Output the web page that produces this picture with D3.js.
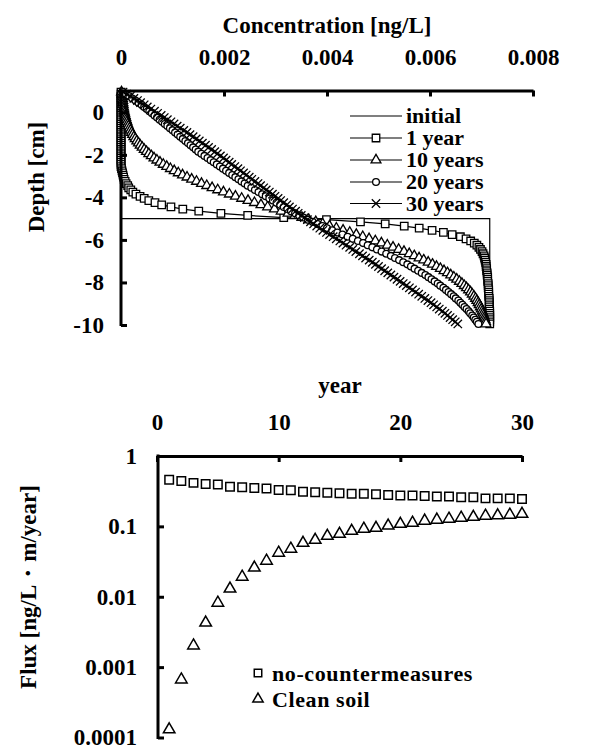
<!DOCTYPE html>
<html>
<head>
<meta charset="utf-8">
<script src="https://cdn.jsdelivr.net/npm/d3@7/dist/d3.min.js"></script>
<style>
  html, body { margin: 0; padding: 0; background: #fff; }
  svg { display: block; }
  svg text { font-family: "Liberation Serif", "Tinos", "Times New Roman", Times, "DejaVu Serif", serif !important; font-weight: bold; fill: #000; }
</style>
</head>
<body>
<svg id="chart" width="590" height="749"></svg>
<script>
// ---------- Concentration profiles (depth in cm, concentration in ng/L) ----------
const depth = [
  0.95, 0.85, 0.75, 0.65, 0.55, 0.45, 0.35, 0.25, 0.15, 0.05,
  -0.05, -0.15, -0.25, -0.35, -0.45, -0.55, -0.65, -0.75, -0.85, -0.95,
  -1.05, -1.15, -1.25, -1.35, -1.45, -1.55, -1.65, -1.75, -1.85, -1.95,
  -2.05, -2.15, -2.25, -2.35, -2.45, -2.55, -2.65, -2.75, -2.85, -2.95,
  -3.05, -3.15, -3.25, -3.35, -3.45, -3.55, -3.65, -3.75, -3.85, -3.95,
  -4.05, -4.15, -4.25, -4.35, -4.45, -4.55, -4.65, -4.75, -4.85, -4.95,
  -5.05, -5.15, -5.25, -5.35, -5.45, -5.55, -5.65, -5.75, -5.85, -5.95,
  -6.05, -6.15, -6.25, -6.35, -6.45, -6.55, -6.65, -6.75, -6.85, -6.95,
  -7.05, -7.15, -7.25, -7.35, -7.45, -7.55, -7.65, -7.75, -7.85, -7.95,
  -8.05, -8.15, -8.25, -8.35, -8.45, -8.55, -8.65, -8.75, -8.85, -8.95,
  -9.05, -9.15, -9.25, -9.35, -9.45, -9.55, -9.65, -9.75, -9.85, -9.95
];

const initialDepth = [1, -5, -5, -10];
const initialConc  = [0, 0, 0.00716, 0.00716];

const conc1y = [
  0, 0, 0, 0, 0, 0, 0, 0, 0, 0,
  0, 0, 0, 0, 0, 0, 0, 0, 0, 0,
  0, 0, 0, 0, 0, 0, 0, 0, 0, 0,
  0, 0, 0, 0, 0, 0, 0.00001, 0.00002, 0.00003, 0.00004,
  0.00005, 0.00006, 0.00008, 0.0001, 0.00013, 0.00015, 0.00019, 0.00023, 0.00029, 0.00037,
  0.00045, 0.00054, 0.00066, 0.00079, 0.00097, 0.0012, 0.00151, 0.00194, 0.00246, 0.00316,
  0.00399, 0.00465, 0.00513, 0.0055, 0.00579, 0.00604, 0.00626, 0.00643, 0.00659, 0.0067,
  0.00679, 0.00686, 0.00691, 0.00695, 0.00698, 0.00701, 0.00703, 0.00705, 0.00706, 0.00707,
  0.00708, 0.00709, 0.00709, 0.0071, 0.0071, 0.00711, 0.00711, 0.00712, 0.00712, 0.00712,
  0.00713, 0.00713, 0.00713, 0.00714, 0.00714, 0.00714, 0.00714, 0.00715, 0.00715, 0.00715,
  0.00715, 0.00715, 0.00715, 0.00716, 0.00716, 0.00716, 0.00716, 0.00716, 0.00716, 0.00716
];

const conc10y = [
  0.00001, 0.00002, 0.000025, 0.000028, 0.000033, 0.000037, 0.000042, 0.000048, 0.000055, 0.000063,
  0.000072, 0.000081, 0.000092, 0.000103, 0.000116, 0.00013, 0.000144, 0.000164, 0.000183, 0.000204,
  0.000225, 0.00025, 0.000276, 0.000307, 0.000339, 0.000373, 0.000411, 0.000451, 0.000494, 0.00054,
  0.000589, 0.000641, 0.000697, 0.000757, 0.000821, 0.000888, 0.000959, 0.001034, 0.001112, 0.001195,
  0.001282, 0.001372, 0.001466, 0.001563, 0.001665, 0.001769, 0.001878, 0.001989, 0.002104, 0.002222,
  0.002343, 0.002466, 0.002591, 0.002718, 0.002848, 0.002979, 0.003111, 0.003244, 0.003378, 0.003513,
  0.003647, 0.003782, 0.003916, 0.004049, 0.004181, 0.004312, 0.004442, 0.004569, 0.004694, 0.004817,
  0.004938, 0.005056, 0.005171, 0.005282, 0.005391, 0.005495, 0.005597, 0.005694, 0.005788, 0.005878,
  0.005965, 0.006048, 0.006126, 0.006201, 0.006272, 0.006339, 0.006403, 0.006463, 0.006519, 0.006571,
  0.00662, 0.006666, 0.006709, 0.006749, 0.006787, 0.006821, 0.006853, 0.006884, 0.00691, 0.006935,
  0.006956, 0.006977, 0.006996, 0.007014, 0.00703, 0.007044, 0.007057, 0.007068, 0.007079, 0.007088
];

const conc20y = [
  0.00004, 0.0001, 0.00016, 0.00022, 0.00028, 0.00034, 0.0004, 0.00045, 0.0005, 0.00055,
  0.0006, 0.00065, 0.0007, 0.00075, 0.0008, 0.00085, 0.0009, 0.00095, 0.001, 0.00105,
  0.0011, 0.00115, 0.0012, 0.00125, 0.0013, 0.00135, 0.0014, 0.00145, 0.0015, 0.00156,
  0.00162, 0.00168, 0.00174, 0.0018, 0.00186, 0.00192, 0.00198, 0.00204, 0.0021, 0.00216,
  0.00222, 0.00228, 0.00234, 0.0024, 0.00246, 0.00253, 0.0026, 0.00267, 0.00274, 0.00281,
  0.00288, 0.00295, 0.00302, 0.00309, 0.00316, 0.00323, 0.0033, 0.00338, 0.00346, 0.00354,
  0.00363, 0.00372, 0.00382, 0.00391, 0.004, 0.0041, 0.0042, 0.0043, 0.0044, 0.0045,
  0.0046, 0.0047, 0.00479, 0.00488, 0.00497, 0.00506, 0.00515, 0.00524, 0.00532, 0.0054,
  0.00548, 0.00556, 0.00563, 0.0057, 0.00577, 0.00584, 0.00591, 0.00597, 0.00603, 0.00609,
  0.00615, 0.0062, 0.00626, 0.00631, 0.00636, 0.00641, 0.00646, 0.0065, 0.00655, 0.00659,
  0.00663, 0.00667, 0.00671, 0.00675, 0.00678, 0.00682, 0.00685, 0.00688, 0.00691, 0.00694
];

const conc30y = [
  0.00004, 0.00011, 0.00018, 0.00025, 0.00032, 0.00038, 0.00045, 0.00051, 0.00058, 0.00065,
  0.00071, 0.00078, 0.00084, 0.0009, 0.00097, 0.00103, 0.00109, 0.00115, 0.00122, 0.00128,
  0.00134, 0.0014, 0.00146, 0.00152, 0.00158, 0.00164, 0.0017, 0.00176, 0.00182, 0.00187,
  0.00193, 0.00199, 0.00204, 0.0021, 0.00215, 0.00221, 0.00227, 0.00232, 0.00238, 0.00243,
  0.00249, 0.00254, 0.0026, 0.00266, 0.00271, 0.00277, 0.00282, 0.00288, 0.00294, 0.00299,
  0.00305, 0.0031, 0.00316, 0.00322, 0.00327, 0.00333, 0.00339, 0.00344, 0.0035, 0.00356,
  0.00362, 0.00368, 0.00374, 0.0038, 0.00386, 0.00392, 0.00399, 0.00405, 0.00412, 0.00418,
  0.00425, 0.00431, 0.00437, 0.00444, 0.0045, 0.00456, 0.00463, 0.00469, 0.00475, 0.00482,
  0.00488, 0.00494, 0.005, 0.00506, 0.00512, 0.00518, 0.00524, 0.0053, 0.00536, 0.00542,
  0.00548, 0.00554, 0.0056, 0.00566, 0.00572, 0.00578, 0.00584, 0.0059, 0.00596, 0.00602,
  0.00607, 0.00613, 0.00618, 0.00624, 0.00629, 0.00634, 0.00639, 0.00644, 0.00649, 0.00654
];

const concTicks = [0, 0.002, 0.004, 0.006, 0.008];
const concTickLabels = ["0", "0.002", "0.004", "0.006", "0.008"];
const depthTicks = [0, -2, -4, -6, -8, -10];
const depthTickLabels = ["0", "-2", "-4", "-6", "-8", "-10"];
const profileNames = ["initial", "1 year", "10 years", "20 years", "30 years"];

// ---------- Flux at the surface over time ----------
const years = [1, 2, 3, 4, 5, 6, 7, 8, 9, 10, 11, 12, 13, 14, 15,
               16, 17, 18, 19, 20, 21, 22, 23, 24, 25, 26, 27, 28, 29, 30];
const fluxNoCountermeasures = [
  0.46, 0.44, 0.415, 0.40, 0.395, 0.365, 0.36, 0.35, 0.345, 0.33,
  0.325, 0.31, 0.305, 0.30, 0.295, 0.29, 0.29, 0.285, 0.28, 0.275,
  0.275, 0.27, 0.265, 0.265, 0.26, 0.26, 0.25, 0.25, 0.25, 0.245
];
const fluxCleanSoil = [
  0.00013, 0.000665, 0.00202, 0.00428, 0.0082, 0.013, 0.0192, 0.0258, 0.0324, 0.042,
  0.048, 0.058, 0.064, 0.073, 0.078, 0.086, 0.092, 0.095, 0.102, 0.108,
  0.112, 0.12, 0.124, 0.128, 0.132, 0.136, 0.141, 0.143, 0.146, 0.15
];
const yearTicks = [0, 10, 20, 30];
const fluxTicks = [1, 0.1, 0.01, 0.001, 0.0001];
const fluxTickLabels = ["1", "0.1", "0.01", "0.001", "0.0001"];
const fluxNames = ["no-countermeasures", "Clean soil"];

// ---------- drawing ----------
const svg = d3.select("#chart");
const FS = 23;
const FS_LEGEND = 22;
const FONT = "'Liberation Serif', 'Tinos', 'Times New Roman', Times, 'DejaVu Serif', serif";

// marker shapes
const xShape = {
  draw(ctx, size) {
    const r = Math.sqrt(size) / 2;
    ctx.moveTo(-r, -r); ctx.lineTo(r, r);
    ctx.moveTo(-r, r); ctx.lineTo(r, -r);
  }
};
const shapes = {
  square: d3.symbol().type(d3.symbolSquare).size(56)(),
  triangle: d3.symbol().type(d3.symbolTriangle).size(42)(),
  circle: d3.symbol().type(d3.symbolCircle).size(36)(),
  cross: d3.symbol().type(xShape).size(70)()
};

function label(sel, size) {
  return sel.attr("font-family", FONT).attr("font-weight", "bold")
    .attr("font-size", size || FS).attr("fill", "#000");
}

function styleAxis(g, tickLabels) {
  g.attr("font-family", FONT).attr("font-size", FS).attr("font-weight", "bold");
  g.select(".domain").attr("stroke", "#000").attr("stroke-width", 3);
  g.selectAll(".tick line").attr("stroke", "#000").attr("stroke-width", 3);
  g.selectAll(".tick text").attr("fill", "#000").text((d, i) => tickLabels[i]);
}

// ===== Top panel: concentration profiles =====
const xc = d3.scaleLinear().domain([0, 0.008]).range([121, 533]);
const yd = d3.scaleLinear().domain([1, -10]).range([91, 325]);

label(svg.append("text")).attr("x", 327).attr("y", 33).attr("text-anchor", "middle")
  .text("Concentration [ng/L]");

label(svg.append("text"))
  .attr("transform", "translate(44,177) rotate(-90)")
  .attr("text-anchor", "middle")
  .text("Depth [cm]");

const lineC = d3.line().x(d => xc(d[0])).y(d => yd(d[1]));

const profiles = [
  { conc: conc1y, shape: "square" },
  { conc: conc10y, shape: "triangle" },
  { conc: conc20y, shape: "circle" },
  { conc: conc30y, shape: "cross" }
];

const gTop = svg.append("g");
gTop.append("path")
  .datum(initialConc.map((c, i) => [c, initialDepth[i]]))
  .attr("d", lineC).attr("fill", "none").attr("stroke", "#000").attr("stroke-width", 1.2);

profiles.forEach(p => {
  const pts = p.conc.map((c, i) => [c, depth[i]]);
  const g = gTop.append("g");
  g.append("path").datum(pts).attr("d", lineC)
    .attr("fill", "none").attr("stroke", "#000").attr("stroke-width", 1.2);
  g.selectAll("path.m").data(pts).enter().append("path")
    .attr("class", "m")
    .attr("transform", d => `translate(${xc(d[0])},${yd(d[1])})`)
    .attr("d", shapes[p.shape])
    .attr("fill", p.shape === "cross" ? "none" : "#fff")
    .attr("stroke", "#000").attr("stroke-width", 1.3);
});

const axTop = svg.append("g").attr("transform", "translate(0,90.5)")
  .call(d3.axisTop(xc).tickValues(concTicks).tickSizeInner(-6).tickSizeOuter(0).tickPadding(26));
styleAxis(axTop, concTickLabels);

const axLeft = svg.append("g").attr("transform", "translate(121,0)")
  .call(d3.axisLeft(yd).tickValues(depthTicks).tickSizeInner(-6).tickSizeOuter(0).tickPadding(17));
styleAxis(axLeft, depthTickLabels);
axLeft.select(".domain").attr("d", `M0,${yd(1) - 1.5}V${yd(-10) + 1}`);

// legend
const legShapes = [null, "square", "triangle", "circle", "cross"];
const legY = [116, 138, 160, 182, 203.5];
profileNames.forEach((name, i) => {
  const g = svg.append("g").attr("transform", `translate(0,${legY[i]})`);
  g.append("line").attr("x1", 350).attr("x2", 402).attr("y1", 0).attr("y2", 0)
    .attr("stroke", "#000").attr("stroke-width", 1.2);
  if (legShapes[i]) {
    g.append("path").attr("transform", "translate(376,0)")
      .attr("d", shapes[legShapes[i]])
      .attr("fill", legShapes[i] === "cross" ? "none" : "#fff")
      .attr("stroke", "#000").attr("stroke-width", 1.3);
  }
  label(g.append("text"), FS_LEGEND).attr("x", 406).attr("y", 7).text(name);
});

// ===== Bottom panel: flux =====
const xy = d3.scaleLinear().domain([0, 30]).range([157, 522]);
const yf = d3.scaleLog().domain([0.0001, 1]).range([737.5, 456]);

label(svg.append("text")).attr("x", 340).attr("y", 393).attr("text-anchor", "middle")
  .text("year");

label(svg.append("text"))
  .attr("transform", "translate(36,587) rotate(-90)")
  .attr("text-anchor", "middle")
  .text("Flux [ng/L\u30FBm/year]");

const gB = svg.append("g");
gB.selectAll("path.sq").data(years).enter().append("path")
  .attr("class", "sq")
  .attr("transform", (d, i) => `translate(${xy(d)},${yf(fluxNoCountermeasures[i])})`)
  .attr("d", d3.symbol().type(d3.symbolSquare).size(72)())
  .attr("fill", "#fff").attr("stroke", "#000").attr("stroke-width", 1.5);
gB.selectAll("path.tr").data(years).enter().append("path")
  .attr("class", "tr")
  .attr("transform", (d, i) => `translate(${xy(d)},${yf(fluxCleanSoil[i])})`)
  .attr("d", d3.symbol().type(d3.symbolTriangle).size(58)())
  .attr("fill", "#fff").attr("stroke", "#000").attr("stroke-width", 1.5);

const axTopB = svg.append("g").attr("transform", "translate(0,456)")
  .call(d3.axisTop(xy).tickValues(yearTicks).tickSizeInner(-6).tickSizeOuter(0).tickPadding(26));
styleAxis(axTopB, yearTicks.map(String));

const axLeftB = svg.append("g").attr("transform", "translate(158,0)")
  .call(d3.axisLeft(yf).tickValues(fluxTicks).tickSizeInner(-6).tickSizeOuter(0).tickPadding(21));
styleAxis(axLeftB, fluxTickLabels);
axLeftB.select(".domain").attr("d", `M0,${yf(1) - 1.5}V${yf(0.0001) + 1.5}`);

// legend
const legB = [
  { name: fluxNames[0], shape: d3.symbolSquare, size: 56, y: 673 },
  { name: fluxNames[1], shape: d3.symbolTriangle, size: 46, y: 699 }
];
legB.forEach(l => {
  svg.append("path").attr("transform", `translate(258,${l.y})`)
    .attr("d", d3.symbol().type(l.shape).size(l.size)())
    .attr("fill", "#fff").attr("stroke", "#000").attr("stroke-width", 1.5);
  label(svg.append("text"), FS_LEGEND).attr("x", 272).attr("y", l.y + 8)
    .attr("letter-spacing", 0.6).text(l.name);
});
</script>
</body>
</html>
